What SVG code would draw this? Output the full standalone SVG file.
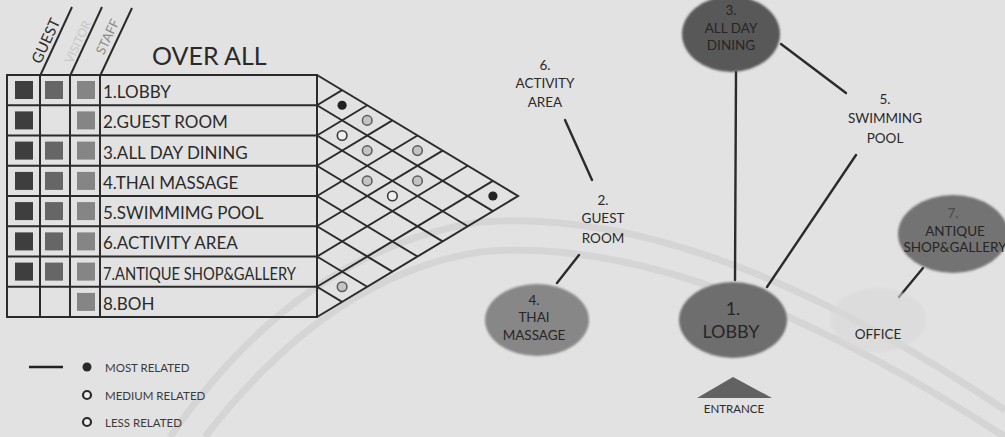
<svg xmlns="http://www.w3.org/2000/svg" width="1005" height="437" viewBox="0 0 1005 437">
<defs>
<style>
.t{font-family:Lato,"Liberation Sans",sans-serif;fill:#2a2a2a}
.row{font-size:17px}
.lbl{font-size:13.5px;text-anchor:middle}
.in{font-size:13.5px;text-anchor:middle;fill:#262626}
.leg{font-size:11.5px;fill:#3a3a3a}
.g{stroke:#2b2b2b;stroke-width:2;fill:none}
.cn{stroke:#2b2b2b;stroke-width:2.4;fill:none;stroke-linecap:round}
.s1{fill:#3e3e3e}.s2{fill:#666}.s3{fill:#858585}
.most{fill:#222}
.med{fill:#c4c4c4;stroke:#5a5a5a;stroke-width:1.5}
.less{fill:#efefef;stroke:#3a3a3a;stroke-width:1.6}
.wm{stroke:#d5d5d5;stroke-width:7;fill:none}
</style>
<filter id="soft" x="-10%" y="-10%" width="120%" height="120%"><feGaussianBlur stdDeviation="1.2"/></filter>
</defs>
<rect width="1005" height="437" fill="#e2e2e2"/>
<g id="watermark">
<path class="wm" d="M170,437 Q300,250 480,222 Q700,205 1005,410"/>
<path class="wm" d="M205,437 Q330,275 480,252 Q690,232 1005,437"/>
</g>
<g id="header">
<line class="g" x1="40" y1="76" x2="72" y2="7"/>
<line class="g" x1="70" y1="76" x2="102" y2="7"/>
<line class="g" x1="100" y1="76" x2="132" y2="8"/>
<text class="t" font-size="15" text-anchor="middle" transform="translate(46,41) rotate(-65)" y="5">GUEST</text>
<text class="t" font-size="12" text-anchor="middle" style="fill:#c8c8c8" transform="translate(78,42) rotate(-65)" y="4">VISITOR</text>
<text class="t" font-size="13" text-anchor="middle" style="fill:#8a8a8a" transform="translate(108,37) rotate(-65)" y="4">STAFF</text>
<text class="t" font-size="25" x="152" y="65">OVER ALL</text>
</g>
<g id="table">
<rect class="g" x="7" y="75" width="310" height="242"/>
<line class="g" x1="40" y1="75" x2="40" y2="317"/>
<line class="g" x1="70" y1="75" x2="70" y2="317"/>
<line class="g" x1="100" y1="75" x2="100" y2="317"/>
<line class="g" x1="7" y1="105.25" x2="317" y2="105.25"/>
<line class="g" x1="7" y1="135.5" x2="317" y2="135.5"/>
<line class="g" x1="7" y1="165.75" x2="317" y2="165.75"/>
<line class="g" x1="7" y1="196" x2="317" y2="196"/>
<line class="g" x1="7" y1="226.25" x2="317" y2="226.25"/>
<line class="g" x1="7" y1="256.5" x2="317" y2="256.5"/>
<line class="g" x1="7" y1="286.75" x2="317" y2="286.75"/>
</g>
<g id="row1"><rect class="s1" x="15" y="81" width="18" height="18"/><rect class="s2" x="45" y="81" width="18" height="18"/><rect class="s3" x="77" y="81" width="18" height="18"/><text class="t row" x="103" y="98">1.LOBBY</text></g>
<g id="row2"><rect class="s1" x="15" y="111.4" width="18" height="18"/><rect class="s3" x="77" y="111.4" width="18" height="18"/><text class="t row" x="103" y="128.4">2.GUEST ROOM</text></g>
<g id="row3"><rect class="s1" x="15" y="141.6" width="18" height="18"/><rect class="s2" x="45" y="141.6" width="18" height="18"/><rect class="s3" x="77" y="141.6" width="18" height="18"/><text class="t row" x="103" y="158.6">3.ALL DAY DINING</text></g>
<g id="row4"><rect class="s1" x="15" y="171.9" width="18" height="18"/><rect class="s2" x="45" y="171.9" width="18" height="18"/><rect class="s3" x="77" y="171.9" width="18" height="18"/><text class="t row" x="103" y="188.9">4.THAI MASSAGE</text></g>
<g id="row5"><rect class="s1" x="15" y="202.1" width="18" height="18"/><rect class="s2" x="45" y="202.1" width="18" height="18"/><rect class="s3" x="77" y="202.1" width="18" height="18"/><text class="t row" x="103" y="219.1">5.SWIMMIMG POOL</text></g>
<g id="row6"><rect class="s1" x="15" y="232.4" width="18" height="18"/><rect class="s2" x="45" y="232.4" width="18" height="18"/><rect class="s3" x="77" y="232.4" width="18" height="18"/><text class="t row" x="103" y="249.4">6.ACTIVITY AREA</text></g>
<g id="row7"><rect class="s1" x="15" y="262.6" width="18" height="18"/><rect class="s2" x="45" y="262.6" width="18" height="18"/><rect class="s3" x="77" y="262.6" width="18" height="18"/><text class="t row" x="103" y="279.6" textLength="193" lengthAdjust="spacingAndGlyphs">7.ANTIQUE SHOP&amp;GALLERY</text></g>
<g id="row8"><rect class="s3" x="77" y="292.9" width="18" height="18"/><text class="t row" x="103" y="309.9">8.BOH</text></g>
<g id="matrix">
<path class="g" d="M317,75 L518,196 L317,317"/>
<path class="g" d="M317,105.25 L492.9,211.1 M317,135.5 L467.7,226.25 M317,165.75 L442.6,241.4 M317,196 L417.5,256.5 M317,226.25 L392.4,271.6 M317,256.5 L367.2,286.75 M317,286.75 L342.1,301.9"/>
<path class="g" d="M317,105.25 L342.1,90.1 M317,135.5 L367.2,105.25 M317,165.75 L392.4,120.4 M317,196 L417.5,135.5 M317,226.25 L442.6,150.6 M317,256.5 L467.7,165.75 M317,286.75 L492.9,180.9"/>
<circle class="most" cx="342.1" cy="105.25" r="4.6"/>
<circle class="med" cx="367.2" cy="120.4" r="4.8"/>
<circle class="less" cx="342.1" cy="135.5" r="4.8"/>
<circle class="med" cx="367.2" cy="150.6" r="4.8"/>
<circle class="med" cx="417.5" cy="150.6" r="4.8"/>
<circle class="med" cx="367.2" cy="180.9" r="4.8"/>
<circle class="med" cx="417.5" cy="180.9" r="4.8"/>
<circle class="less" cx="392.4" cy="196" r="4.8"/>
<circle class="most" cx="492.9" cy="196" r="4.6"/>
<circle class="med" cx="342.1" cy="286.75" r="4.8"/>
</g>
<g id="legend">
<line x1="29" y1="367" x2="63" y2="367" stroke="#222" stroke-width="2.4"/>
<circle cx="87" cy="367" r="4.5" fill="#2a2a2a"/>
<text class="t leg" x="105" y="372">MOST RELATED</text>
<circle cx="87" cy="395" r="4" fill="#efefef" stroke="#2a2a2a" stroke-width="2.2"/>
<text class="t leg" x="105" y="400">MEDIUM RELATED</text>
<circle cx="87" cy="422" r="4" fill="#efefef" stroke="#2a2a2a" stroke-width="2.2"/>
<text class="t leg" x="105" y="427">LESS RELATED</text>
</g>
<g id="connectors">
<line class="cn" x1="736" y1="72" x2="735" y2="280"/>
<line class="cn" x1="781" y1="44" x2="846" y2="93"/>
<line class="cn" x1="856" y1="155" x2="767" y2="287"/>
<line class="cn" x1="565" y1="120" x2="592" y2="180"/>
<line class="cn" x1="579" y1="255" x2="557" y2="283"/>
<line class="cn" x1="923" y1="268" x2="899" y2="297"/>
</g>
<g id="n3">
<ellipse cx="731" cy="34" rx="49" ry="38" fill="#585858" filter="url(#soft)"/>
<text class="t in" x="731" y="15">3.</text>
<text class="t in" x="731" y="33">ALL DAY</text>
<text class="t in" x="731" y="50">DINING</text>
</g>
<g id="n6">
<text class="t lbl" x="545" y="70">6.</text>
<text class="t lbl" x="545" y="88">ACTIVITY</text>
<text class="t lbl" x="545" y="107">AREA</text>
</g>
<g id="n5">
<text class="t lbl" x="885" y="104">5.</text>
<text class="t lbl" x="885" y="123">SWIMMING</text>
<text class="t lbl" x="885" y="143">POOL</text>
</g>
<g id="n2">
<text class="t lbl" x="603" y="205">2.</text>
<text class="t lbl" x="603" y="223">GUEST</text>
<text class="t lbl" x="603" y="243">ROOM</text>
</g>
<g id="n7">
<ellipse cx="953" cy="234" rx="55" ry="39" fill="#737373" filter="url(#soft)"/>
<text class="t in" x="953" y="218" style="fill:#4a4a4a">7.</text>
<text class="t in" x="955" y="236">ANTIQUE</text>
<text class="t in" x="955" y="252">SHOP&amp;GALLERY</text>
</g>
<g id="office">
<ellipse cx="878" cy="320" rx="48" ry="32" fill="#d9d9d9" opacity="0.6" filter="url(#soft)"/>
<text class="t lbl" x="878" y="339">OFFICE</text>
</g>
<g id="n4">
<ellipse cx="537" cy="320" rx="52" ry="36" fill="#878787" filter="url(#soft)"/>
<text class="t in" x="534" y="305">4.</text>
<text class="t in" x="534" y="322">THAI</text>
<text class="t in" x="534" y="340">MASSAGE</text>
</g>
<g id="n1">
<ellipse cx="733" cy="320" rx="54" ry="38" fill="#6e6e6e" filter="url(#soft)"/>
<text class="t" font-size="18" text-anchor="middle" x="733" y="315" style="fill:#262626">1.</text>
<text class="t" font-size="18" text-anchor="middle" x="731" y="338" style="fill:#262626">LOBBY</text>
</g>
<g id="entrance">
<polygon points="733,377 697,398 772,398" fill="#626262"/>
<text class="t" font-size="11.5" text-anchor="middle" x="734" y="413">ENTRANCE</text>
</g>
</svg>
